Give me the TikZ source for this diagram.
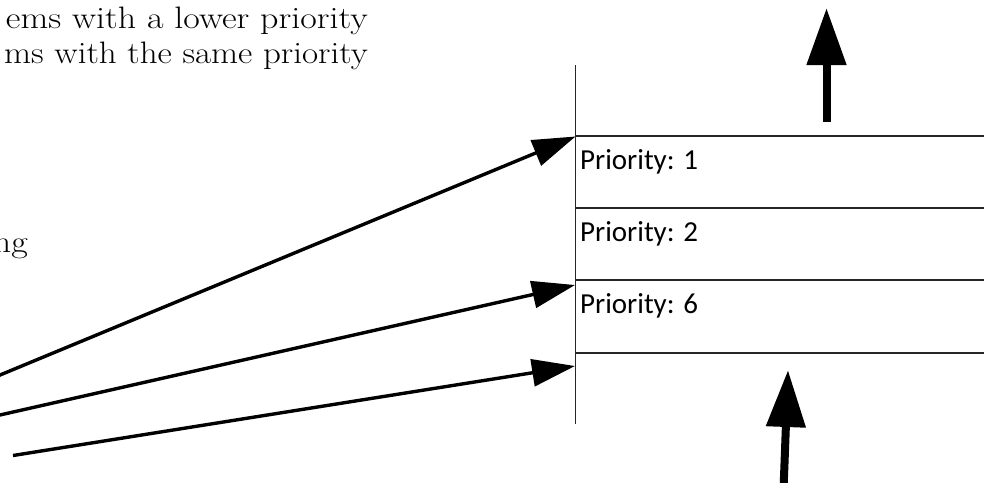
\documentclass[tikz,border=0pt]{standalone}
\usepackage{fontspec}
\newfontfamily\calib{Carlito}
\usetikzlibrary{arrows.meta}
\tikzset{
  boxline/.style={line width=1.6pt, draw=black!85},
  prio/.style={font=\calib\fontsize{29}{34}\selectfont, anchor=base west, inner sep=0pt},
  serif/.style={font=\fontsize{31}{36}\selectfont, anchor=base east, inner sep=0pt},
  feed/.style={line width=3.4pt, -{Triangle[length=43pt,width=27pt]}},
  bigup/.style={line width=8pt, -{Triangle[length=57pt,width=38pt]}}
}
\begin{document}
\begin{tikzpicture}[x=1pt,y=-1pt]
\useasboundingbox (0,0) rectangle (984,482);
\clip (0,0) rectangle (984,482);
% top-left text
\node[serif] (t1) at (368,28) {\scalebox{1.16}[1]{ems with a lower priority}};
\node[serif] (t2) at (368,63) {\scalebox{1.13}[1]{ms with the same priority}};
\node[serif] (t3) at (28,252) {\scalebox{1.16}[1]{ng}};
% queue frame
\coordinate (vtop) at (575.5,65);
\coordinate (vbot) at (575.5,424);
\draw[boxline] (vtop) -- (vbot);
\foreach \y/\n in {136/h1,208/h2,280/h3,353/h4}{
  \coordinate (\n a) at (575.5,\y);
  \coordinate (\n b) at (990,\y);
  \draw[boxline] (\n a) -- (\n b);
}
% labels
\node[prio] (p1) at (580,169) {Priority: 1};
\node[prio] (p2) at (580,241.5) {Priority: 2};
\node[prio] (p6) at (580,313) {Priority: 6};
% incoming arrows
\coordinate (s1) at (-20,383.3);
\coordinate (e1) at (575.5,136.5);
\coordinate (s2) at (-20,419.5);
\coordinate (e2) at (575,285);
\coordinate (s3) at (13,455.5);
\coordinate (e3) at (575,366);
\draw[feed] (s1) -- (e1);
\draw[feed] (s2) -- (e2);
\draw[feed] (s3) -- (e3);
% vertical arrows
\coordinate (ub) at (826.5,122);
\coordinate (ut) at (826.5,8);
\draw[bigup] (ub) -- (ut);
\coordinate (db) at (783.5,490);
\coordinate (dt) at (788,370);
\draw[bigup] (db) -- (dt);
\end{tikzpicture}
\end{document}
